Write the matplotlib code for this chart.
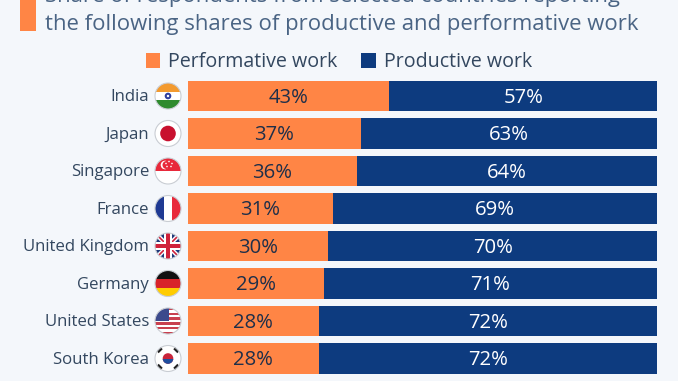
#!/usr/bin/env python3
"""Performative vs productive work by country, stacked bars with round flags."""
import matplotlib
matplotlib.use("Agg")
import matplotlib.pyplot as plt
from matplotlib.patches import Circle, Polygon, Rectangle

countries = ["India", "Japan", "Singapore", "France", "United Kingdom",
             "Germany", "United States", "South Korea"]
performative = [43, 37, 36, 31, 30, 29, 28, 28]
productive = [57, 63, 64, 69, 70, 71, 72, 72]
title_lines = ["Share of respondents from selected countries reporting",
               "the following shares of productive and performative work"]
legend_labels = ["Performative work", "Productive work"]

W, H = 678, 381
BG = "#F4F7FB"
ORANGE = "#FF8545"
NAVY = "#0D3B7F"
DARK = "#1E2F4A"
LABEL = "#33475F"
TITLE = "#4A6484"
FLAG_X, FLAG_R = 168, 13

plt.rcParams["font.family"] = ["Open Sans", "DejaVu Sans"]


def stripes(ax, cy, clip, bands):
    # horizontal bands, top to bottom, in flag-height fractions
    y = cy - FLAG_R
    for frac, col in bands:
        h = 2 * FLAG_R * frac
        r = Rectangle((FLAG_X - FLAG_R, y), 2 * FLAG_R, h, fc=col, lw=0, zorder=3)
        ax.add_patch(r)
        r.set_clip_path(clip)
        y += h


def vstripes(ax, cy, clip, bands):
    x = FLAG_X - FLAG_R
    for frac, col in bands:
        w = 2 * FLAG_R * frac
        r = Rectangle((x, cy - FLAG_R), w, 2 * FLAG_R, fc=col, lw=0, zorder=3)
        ax.add_patch(r)
        r.set_clip_path(clip)
        x += w


def draw_flag(ax, name, cy):
    clip = Circle((FLAG_X, cy), FLAG_R, transform=ax.transData)
    ax.add_patch(Circle((FLAG_X, cy), FLAG_R, fc="white", lw=0, zorder=2))
    if name == "India":
        stripes(ax, cy, clip, [(1 / 3, "#F39A2E"), (1 / 3, "white"), (1 / 3, "#2E8B2E")])
        ax.add_patch(Circle((FLAG_X, cy), 3.3, fc="#2F3F9E", lw=0, zorder=4))
        ax.add_patch(Circle((FLAG_X, cy), 1.2, fc="white", lw=0, zorder=5))
    elif name == "Japan":
        ax.add_patch(Circle((FLAG_X, cy), 7.8, fc="#C8102E", lw=0, zorder=4))
    elif name == "Singapore":
        stripes(ax, cy, clip, [(0.5, "#E8293B"), (0.5, "white")])
        ax.add_patch(Circle((FLAG_X - 3, cy - 6), 4.3, fc="white", lw=0, zorder=4))
        ax.add_patch(Circle((FLAG_X - 1.5, cy - 6), 4.0, fc="#E8293B", lw=0, zorder=5))
        for dx, dy in [(1, -9.5), (4, -7.5), (3, -4.5), (-1, -4.5), (-2, -7.5)]:
            ax.add_patch(Circle((FLAG_X + dx, cy + dy), 0.8, fc="white", lw=0, zorder=6))
    elif name == "France":
        vstripes(ax, cy, clip, [(1 / 3, "#1F3A93"), (1 / 3, "white"), (1 / 3, "#E8293B")])
    elif name == "United Kingdom":
        stripes(ax, cy, clip, [(1, "#1F3A7A")])
        for a, b in [((-13, -13), (13, 13)), ((-13, 13), (13, -13))]:
            for col, lw, z in [("white", 3.2, 4), ("#D0213A", 1.2, 5)]:
                ln = ax.plot([FLAG_X + a[0], FLAG_X + b[0]], [cy + a[1], cy + b[1]],
                             color=col, lw=lw, zorder=z, solid_capstyle="butt")[0]
                ln.set_clip_path(clip)
        for col, t, z in [("white", 8, 6), ("#D0213A", 4.5, 7)]:
            for r in (Rectangle((FLAG_X - t / 2, cy - FLAG_R), t, 2 * FLAG_R, fc=col, lw=0, zorder=z),
                      Rectangle((FLAG_X - FLAG_R, cy - t / 2), 2 * FLAG_R, t, fc=col, lw=0, zorder=z)):
                ax.add_patch(r)
                r.set_clip_path(clip)
    elif name == "Germany":
        stripes(ax, cy, clip, [(1 / 3, "#111111"), (1 / 3, "#D8232A"), (1 / 3, "#FFCC00")])
    elif name == "United States":
        stripes(ax, cy, clip, [(1 / 11, "#C8404F" if i % 2 == 0 else "white") for i in range(11)])
        r = Rectangle((FLAG_X - FLAG_R, cy - FLAG_R), FLAG_R + 1, FLAG_R, fc="#3C4A8C", lw=0, zorder=4)
        ax.add_patch(r)
        r.set_clip_path(clip)
    elif name == "South Korea":
        ax.add_patch(Circle((FLAG_X, cy), 5.3, fc="#C8243A", lw=0, zorder=4))
        r = Rectangle((FLAG_X - 6, cy + 0.3), 12, 6, fc="#1F4E9E", lw=0, zorder=5)
        ax.add_patch(r)
        r.set_clip_path(Circle((FLAG_X, cy), 5.3, transform=ax.transData))
        for sx, sy in [(-1, -1), (1, -1), (-1, 1), (1, 1)]:
            px, py = FLAG_X + sx * 8.3, cy + sy * 8.3
            ax.add_patch(Polygon([(px - 3 * sx, py + 1 * sy), (px + 1 * sx, py - 3 * sy),
                                  (px + 3 * sx, py - 1 * sy), (px - 1 * sx, py + 3 * sy)],
                                 fc="#222222", lw=0, zorder=4))
    ax.add_patch(Circle((FLAG_X, cy), FLAG_R, fc="none", ec="#C9CDD3", lw=0.8, zorder=9))


def main():
    fig = plt.figure(figsize=(W / 100, H / 100), dpi=100, facecolor=BG)

    # pixel overlay for title, legend, flags
    ov = fig.add_axes([0, 0, 1, 1])
    ov.set_xlim(0, W)
    ov.set_ylim(H, 0)
    ov.axis("off")

    ax = fig.add_axes([187.5 / W, 1 - 377.25 / H, (657 - 187.5) / W, 300 / H])
    ax.patch.set_alpha(0)
    y = range(len(countries))
    ax.barh(y, performative, height=0.81, color=ORANGE)
    ax.barh(y, productive, left=performative, height=0.81, color=NAVY)
    ax.set_xlim(0, 100)
    ax.set_ylim(len(countries) - 0.5, -0.5)
    ax.axis("off")
    for i, (a, b) in enumerate(zip(performative, productive)):
        ax.text(a / 2, i + 0.18, f"{a}%", ha="center", va="baseline", fontsize=14.6, color=DARK)
        ax.text(a + b / 2, i + 0.18, f"{b}%", ha="center", va="baseline", fontsize=14.6, color="white")

    # accent block and clipped title
    ov.add_patch(Rectangle((20, -2), 16, 33, fc=ORANGE, lw=0))
    ov.text(45, 2, title_lines[0], fontsize=15.95, color=TITLE, va="baseline", clip_on=True)
    ov.text(45, 30, title_lines[1], fontsize=15.95, color=TITLE, va="baseline")

    # legend
    ov.add_patch(Rectangle((146, 53), 14, 15, fc=ORANGE, lw=0))
    ov.text(168, 67, legend_labels[0], fontsize=14.1, color=LABEL, va="baseline")
    ov.add_patch(Rectangle((361, 53), 15, 15, fc=NAVY, lw=0))
    ov.text(384, 67, legend_labels[1], fontsize=14.1, color=LABEL, va="baseline")

    for i, name in enumerate(countries):
        cy = 96 + 37.5 * i
        ov.text(149, cy + 5.3, name, ha="right", va="baseline", fontsize=12.1, color=LABEL)
        draw_flag(ov, name, cy)
    ov.set_xlim(0, W)
    ov.set_ylim(H, 0)

    fig.savefig("out.png", dpi=100, facecolor=BG)
    plt.close(fig)


if __name__ == "__main__":
    main()
